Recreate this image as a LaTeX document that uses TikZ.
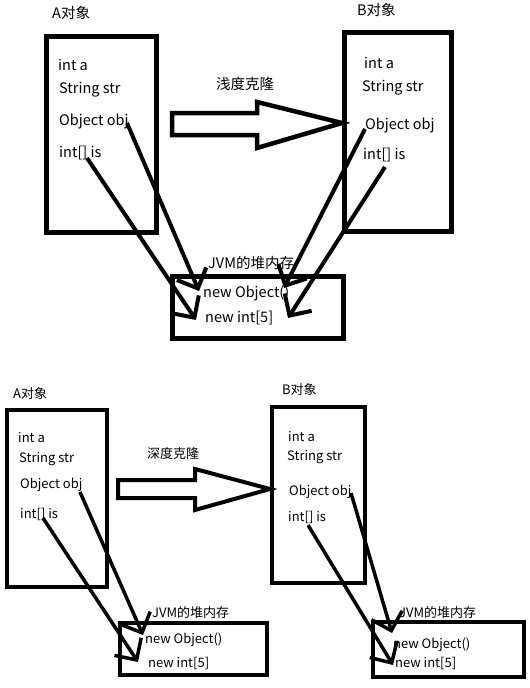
\documentclass[tikz,border=0pt]{standalone}
\usepackage{fontspec}
\setmainfont{Noto Sans CJK SC}
\usetikzlibrary{arrows.meta}
\tikzset{
  box/.style={draw, line width=#1, inner sep=0pt, rectangle},
  box/.default=5pt,
  lbl/.style={anchor=base west, inner sep=0pt, font=\fontsize{14.5}{16}\selectfont},
  slbl/.style={anchor=base west, inner sep=0pt, font=\fontsize{13}{15}\selectfont},
  ref/.style={line width=#1, -{Straight Barb[length=16pt,width=32pt]}},
  ref/.default=4pt,
  blockarrow/.style={draw, line width=#1, line join=miter},
  blockarrow/.default=4.5pt
}
\begin{document}
\begin{tikzpicture}[x=1pt,y=-1pt]
\useasboundingbox (0,0) rectangle (530,688);
% ---------- top: shallow clone ----------
\node[box, minimum width=110pt, minimum height=196pt] (A1) at (101,134) {};
\node[box, minimum width=107pt, minimum height=199pt] (B1) at (397.5,131.5) {};
\node[box, minimum width=171pt, minimum height=62pt] (H1) at (257.5,307) {};
\node[lbl] (A1t) at (52,18) {A对象};
\node[lbl] (B1t) at (357,16) {B对象};
\node[lbl] (A1a) at (58,70) {int a};
\node[lbl] (A1s) at (59,93) {String str};
\node[lbl] (A1o) at (59,125) {Object obj};
\node[lbl] (A1i) at (59,157) {int[] is};
\node[lbl] (B1a) at (364,68) {int a};
\node[lbl] (B1s) at (362,91) {String str};
\node[lbl] (B1o) at (365,129) {Object obj};
\node[lbl] (B1i) at (363,159) {int[] is};
\node[lbl] (C1) at (216,89) {浅度克隆};
\node[lbl] (H1t) at (208,268) {JVM的堆内存};
\node[lbl] (H1o) at (203,297) {new Object()};
\node[lbl] (H1i) at (205,322) {new int[5]};
\draw[blockarrow] (172,113) -- (257,113) -- (257,102) -- (342,123) -- (257,148) -- (257,135) -- (172,135) -- cycle;
\coordinate (a1os) at (127,123);
\coordinate (a1oe) at (199,291);
\coordinate (a1is) at (87,158);
\coordinate (a1ie) at (196,320);
\coordinate (b1os) at (365,129);
\coordinate (b1oe) at (284,288);
\coordinate (b1is) at (385,167);
\coordinate (b1ie) at (288,318);
\draw[ref] (a1os) -- (a1oe);
\draw[ref] (a1is) -- (a1ie);
\draw[ref] (b1os) -- (b1oe);
\draw[ref] (b1is) -- (b1ie);
% ---------- bottom: deep clone ----------
\node[box=4.5pt, minimum width=100pt, minimum height=177pt] (A2) at (57,498.5) {};
\node[box=4.5pt, minimum width=93pt, minimum height=176pt] (B2) at (318.5,495) {};
\node[box=4.5pt, minimum width=147pt, minimum height=52pt] (H2) at (193.5,649) {};
\node[box=4.5pt, minimum width=151pt, minimum height=55pt] (H3) at (448.5,649.5) {};
\node[slbl] (A2t) at (13,398) {A对象};
\node[slbl] (B2t) at (282,394) {B对象};
\node[slbl] (A2a) at (18,442) {int a};
\node[slbl] (A2s) at (19,462) {String str};
\node[slbl] (A2o) at (20,488) {Object obj};
\node[slbl] (A2i) at (20,518) {int[] is};
\node[slbl] (B2a) at (288,441) {int a};
\node[slbl] (B2s) at (287,460) {String str};
\node[slbl] (B2o) at (289,495) {Object obj};
\node[slbl] (B2i) at (288,521) {int[] is};
\node[slbl] (C2) at (147,458) {深度克隆};
\node[slbl] (H2t) at (152,617) {JVM的堆内存};
\node[slbl] (H2o) at (145,643) {new Object()};
\node[slbl] (H2i) at (148,667) {new int[5]};
\node[slbl] (H3t) at (399,617) {JVM的堆内存};
\node[slbl] (H3o) at (393,648) {new Object()};
\node[slbl] (H3i) at (395,667) {new int[5]};
\draw[blockarrow=4pt] (118,480) -- (195,480) -- (195,469) -- (270,489) -- (195,510) -- (195,498) -- (118,498) -- cycle;
\coordinate (a2os) at (80,492);
\coordinate (a2oe) at (143,635);
\coordinate (a2is) at (43,518);
\coordinate (a2ie) at (138,662);
\coordinate (b2os) at (351,493);
\coordinate (b2oe) at (392,633);
\coordinate (b2is) at (308,525);
\coordinate (b2ie) at (393,665);
\draw[ref=3.5pt] (a2os) -- (a2oe);
\draw[ref=3.5pt] (a2is) -- (a2ie);
\draw[ref=3.5pt] (b2os) -- (b2oe);
\draw[ref=3.5pt] (b2is) -- (b2ie);
\end{tikzpicture}
\end{document}
